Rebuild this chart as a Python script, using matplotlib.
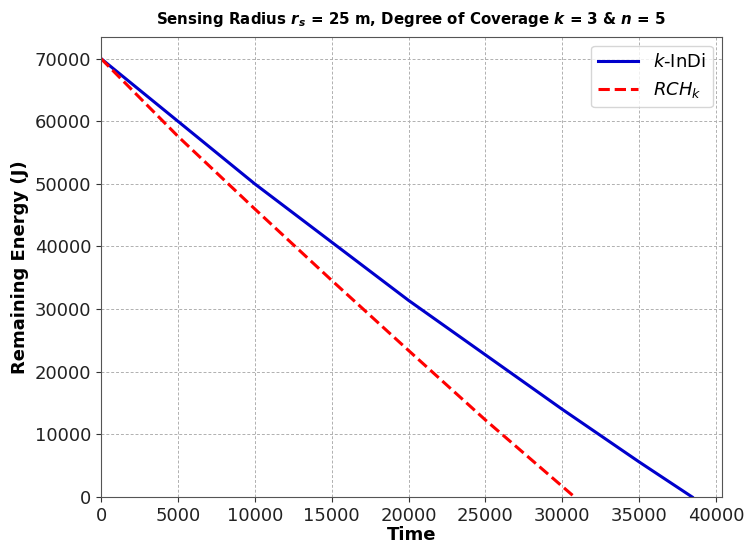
import matplotlib.pyplot as plt
import numpy as np

# dados
tempo_indi = [0, 5000, 10000, 15000, 20000, 25000, 30000, 35000, 38450]
energia_indi = [70000, 60000, 50000, 40700, 31400, 22700, 14000, 5600, 0]

tempo_rch = [0, 5000, 10000, 15000, 20000, 25000, 30800]
energia_rch = [70000, 57600, 46000, 34600, 23400, 12300, 0]

fig = plt.figure(figsize=(7.46, 5.45), dpi=100)
ax = fig.add_axes([0.1354, 0.0881, 0.832, 0.8446])

ax.plot(tempo_indi, energia_indi, color="#0000cc", linewidth=2.2, label=r"$k$-InDi")
ax.plot(tempo_rch, energia_rch, color="red", linewidth=2.2, linestyle="--",
        label=r"$RCH_k$")

ax.set_xlim(0, 40370)
ax.set_ylim(0, 73500)
ax.set_xticks(np.arange(0, 40001, 5000))
ax.set_yticks(np.arange(0, 70001, 10000))
ax.tick_params(labelsize=13, colors="#333333", labelcolor="#222222")
for s in ax.spines.values():
    s.set_color("#555555")

ax.grid(True, linestyle=(0, (3, 2)), color="#b0b0b0", linewidth=0.7)
ax.set_xlabel("Time", fontsize=13, fontweight="bold", labelpad=1)
ax.set_ylabel("Remaining Energy (J)", fontsize=13, fontweight="bold")
ax.set_title(r"Sensing Radius $\mathbfit{r}_{\mathbfit{s}}$ = 25 m, Degree of Coverage $\mathbfit{k}$ = 3 & $\mathbfit{n}$ = 5",
             fontsize=10.8, fontweight="bold", pad=9)
ax.legend(loc="upper right", fontsize=13, handlelength=2.2)

plt.savefig("out.png", dpi=100)
